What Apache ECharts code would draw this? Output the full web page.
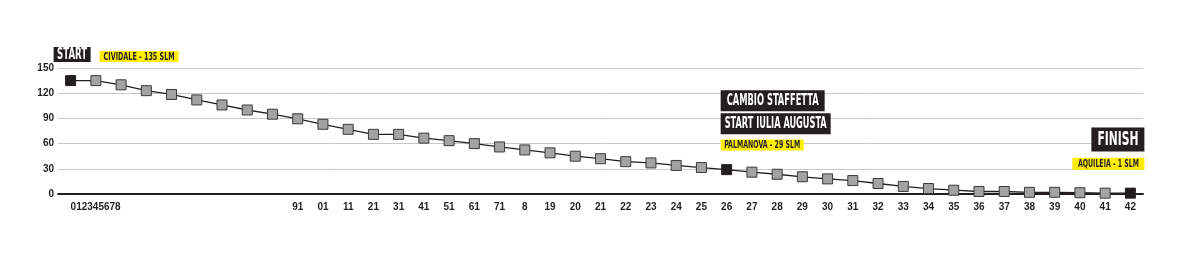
<!DOCTYPE html>
<html>
<head>
<meta charset="utf-8">
<script src="https://cdn.jsdelivr.net/npm/echarts@6/dist/echarts.min.js"></script>
<style>
html,body{margin:0;padding:0;background:#fff;}
#chart{width:1194px;height:268px;}
</style>
</head>
<body>
<div id="chart"></div>
<script>
// ---- data ----
var categories = ['012345678','','','','','','','','','91','01','11','21','31','41','51','61','71','8','19',
  '20','21','22','23','24','25','26','27','28','29','30','31','32','33','34','35','36','37','38','39','40','41','42'];
var elevation = [135,135,130,123,118.5,112,106,100,95,89.5,83,77,71,71,66.5,63.5,60,56,52.5,49,
  45,42,38.5,37,34,31.5,29,26,23.5,20.5,18,16,12.5,9,6.5,4.5,3,3,2,2,1.5,1,1];
var keyPoints = [0, 26, 42];
var yTicks = {min: 0, max: 150, interval: 30};
var annotations = [
  {text: 'START', idx: 0, kind: 'dark'},
  {text: 'CIVIDALE - 135 SLM', idx: 0, kind: 'yellow'},
  {text: 'CAMBIO STAFFETTA', idx: 26, kind: 'dark'},
  {text: 'START IULIA AUGUSTA', idx: 26, kind: 'dark'},
  {text: 'PALMANOVA - 29 SLM', idx: 26, kind: 'yellow'},
  {text: 'FINISH', idx: 42, kind: 'dark'},
  {text: 'AQUILEIA - 1 SLM', idx: 42, kind: 'yellow'}
];

var FONT = "'Liberation Sans Narrow','DejaVu Sans Condensed','Arial Narrow',sans-serif";
var AXFONT = "'Liberation Sans Narrow','Liberation Sans',Arial,sans-serif";
var DARK = '#231f20';
var YELLOW = '#ffed00';

var chart = echarts.init(document.getElementById('chart'), null, {renderer: 'canvas'});

var catData = categories.map(function (c, i) {
  if (i === 0) return {value: c, textStyle: {align: 'left'}};
  return c;
});

var seriesData = elevation.map(function (v, i) {
  if (keyPoints.indexOf(i) >= 0) {
    return {value: v, itemStyle: {color: DARK, borderColor: DARK}};
  }
  return v;
});

chart.setOption({
  animation: false,
  grid: {left: 58, right: 51, top: 68, bottom: 74, containLabel: false},
  xAxis: {
    type: 'category',
    data: catData,
    boundaryGap: true,
    axisLine: {lineStyle: {color: DARK, width: 2}},
    axisTick: {inside: true, length: 4, lineStyle: {color: DARK, width: 1.5}},
    axisLabel: {interval: 0, margin: 8, fontSize: 10, fontWeight: 'bold', fontFamily: AXFONT, color: DARK},
    splitLine: {show: false}
  },
  yAxis: {
    type: 'value',
    min: yTicks.min, max: yTicks.max, interval: yTicks.interval,
    axisLine: {show: false},
    axisTick: {show: false},
    axisLabel: {margin: 4, fontSize: 10, fontWeight: 'bold', fontFamily: AXFONT, color: DARK},
    splitLine: {lineStyle: {color: '#c8c8c8', width: 1}}
  },
  series: [{
    type: 'line',
    data: seriesData,
    symbol: 'rect',
    symbolSize: 10,
    lineStyle: {color: DARK, width: 1.3},
    itemStyle: {color: '#a3a3a3', borderColor: '#3a3a3a', borderWidth: 1},
    z: 3
  }]
});

// ---- annotation boxes, placed from the chart's own scales ----
var ctx = document.createElement('canvas').getContext('2d');
function measure(text, size) {
  ctx.font = 'bold ' + size + 'px ' + FONT;
  return ctx.measureText(text).width;
}
function px(idx, val) { return chart.convertToPixel({gridIndex: 0}, [idx, val]); }

// layout relative to anchor (data point x, a value-axis level)
var layout = {
  'START':               {val: 150, dx: -17, dy: -21, w: 37, h: 15, tw: 30, fs: 15},
  'CIVIDALE - 135 SLM':  {val: 150, dx: 29,  dy: -17, w: 79, h: 11, tw: 71, fs: 10},
  'CAMBIO STAFFETTA':    {val: 120, dx: -6,  dy: -3,  w: 104, h: 21, tw: 92, fs: 16},
  'START IULIA AUGUSTA': {val: 120, dx: -6,  dy: 20,  w: 110, h: 21, tw: 102, fs: 16},
  'PALMANOVA - 29 SLM':  {val: 60,  dx: -6,  dy: -4,  w: 83, h: 11, tw: 76, fs: 10},
  'FINISH':              {val: 60,  dx: -39, dy: -16, w: 53, h: 24, tw: 41, fs: 19},
  'AQUILEIA - 1 SLM':    {val: 30,  dx: -58, dy: -11, w: 72, h: 12, tw: 61, fs: 10}
};

var graphics = [];
annotations.forEach(function (a) {
  var L = layout[a.text];
  var p = px(a.idx, L.val);
  var x = p[0] + L.dx, y = p[1] + L.dy;
  graphics.push({
    type: 'rect', shape: {x: x, y: y, width: L.w, height: L.h},
    style: {fill: a.kind === 'dark' ? DARK : YELLOW}, z: 10, silent: true
  });
  var mw = measure(a.text, L.fs);
  graphics.push({
    type: 'text', x: x + L.w / 2, y: y + L.h / 2 + 0.5, scaleX: L.tw / mw, z: 11, silent: true,
    style: {
      text: a.text, fill: a.kind === 'dark' ? '#ffffff' : DARK,
      font: 'bold ' + L.fs + 'px ' + FONT, align: 'center', verticalAlign: 'middle'
    }
  });
});
chart.setOption({graphic: graphics});
</script>
</body>
</html>
